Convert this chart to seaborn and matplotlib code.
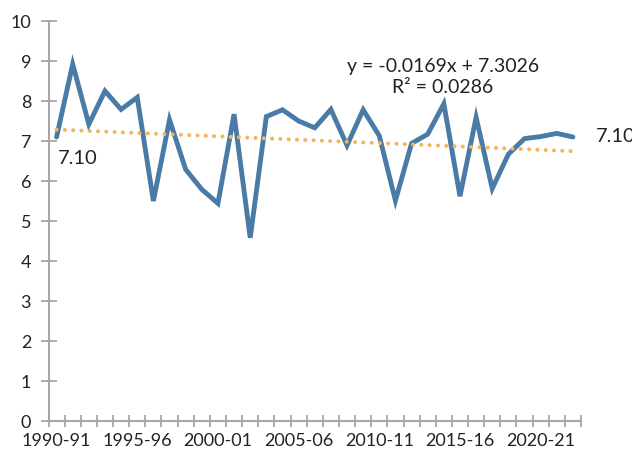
import matplotlib
matplotlib.use("Agg")
import matplotlib.pyplot as plt
import matplotlib.ticker as mticker
import numpy as np
import pandas as pd
import seaborn as sns

# Financial years 1990-91 .. 2022-23
years = [f"{y}-{str(y + 1)[-2:]}" for y in range(1990, 2023)]
values = [7.10, 8.92, 7.42, 8.25, 7.79, 8.09, 5.50, 7.53, 6.29, 5.79,
          5.44, 7.67, 4.58, 7.61, 7.78, 7.50, 7.33, 7.79, 6.89, 7.78,
          7.13, 5.51, 6.94, 7.17, 7.93, 5.62, 7.59, 5.81, 6.67, 7.06,
          7.11, 7.19, 7.10]
slope = -0.0169
intercept = 7.3026
r_squared = 0.0286

df = pd.DataFrame({"idx": np.arange(len(years)), "year": years, "value": values})
df["trend"] = slope * (df["idx"] + 1) + intercept

sns.set_theme(style="white")
plt.rcParams["font.family"] = ["Lato", "DejaVu Sans"]

fig = plt.figure(figsize=(6.32, 4.53), dpi=100)
ax = fig.add_axes([48.5 / 632, 32 / 453, (581 - 48.5) / 632, (421 - 21) / 453])

blue = "#4A7BA6"
orange = "#F4B45E"
grey = "#A6A6A6"

sns.lineplot(data=df, x="idx", y="trend", ax=ax, color=orange, lw=2.9,
             linestyle=(0, (0.01, 2.05)), zorder=3)
ax.lines[0].set_dash_capstyle("round")
sns.lineplot(data=df, x="idx", y="value", ax=ax, color=blue, lw=3.5,
             solid_joinstyle="miter", zorder=2)

ax.set_xlim(-0.5, len(years) - 0.5)
ax.set_ylim(0, 10)
ax.set_xlabel("")
ax.set_ylabel("")

# category labels every five years, tick marks on category boundaries
ax.set_xticks(np.arange(0, len(years), 5))
ax.set_xticklabels(years[::5])
ax.xaxis.set_minor_locator(mticker.FixedLocator(np.arange(-0.5, len(years), 1)))
ax.tick_params(axis="x", which="major", length=0, pad=9, labelsize=13, labelcolor="#222222")
ax.tick_params(axis="x", which="minor", direction="inout", length=8, width=1.3, color=grey, bottom=True)

ax.set_yticks(range(0, 11))
ax.tick_params(axis="y", direction="inout", length=11, width=1.3, color=grey,
               pad=7, labelsize=13, labelcolor="#222222", left=True)

for side in ["top", "right"]:
    ax.spines[side].set_visible(False)
for side in ["left", "bottom"]:
    ax.spines[side].set_color(grey)
    ax.spines[side].set_linewidth(1.5)

ax.text(0.05, values[0] - 0.55, f"{values[0]:.2f}", fontsize=14.5, color="#222222",
        ha="left", va="center")
ax.text(len(years) - 1 + 1.45, values[-1], f"{values[-1]:.2f}", fontsize=14.5,
        color="#222222", ha="left", va="center", clip_on=False)
ax.text(23.95, 8.6, f"y = {slope:.4f}x + {intercept:.4f}\nR² = {r_squared:.4f}",
        fontsize=14, color="#222222", ha="center", va="center", linespacing=1.3)

fig.savefig("out.png", dpi=100)
